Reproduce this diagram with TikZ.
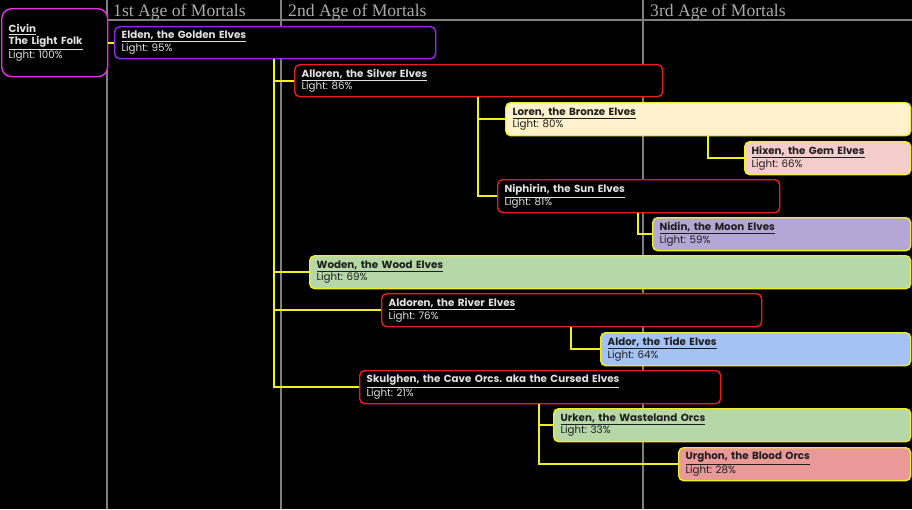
\documentclass[tikz,border=0pt]{standalone}
\usepackage{fontspec}
\setmainfont{Poppins}
\newfontfamily\hdrfont{Liberation Serif}
\definecolor{gridgray}{RGB}{128,128,128}
\definecolor{hdrgray}{RGB}{170,170,170}
\definecolor{cmag}{RGB}{230,50,230}
\definecolor{cpurp}{RGB}{150,40,240}
\definecolor{cred}{RGB}{235,30,30}
\definecolor{cyel}{RGB}{240,240,30}
\definecolor{fcream}{HTML}{FFF2CC}
\definecolor{fpink}{HTML}{F4CCCC}
\definecolor{flav}{HTML}{B4A7D6}
\definecolor{fgreen}{HTML}{B6D7A8}
\definecolor{fblue}{HTML}{A4C2F4}
\definecolor{fsalmon}{HTML}{EA9999}
\definecolor{ltxt}{RGB}{225,225,225}
\definecolor{dtxt}{RGB}{30,30,30}
\newcommand{\ttl}[1]{\textbf{\underline{#1}}}
\tikzset{
  grid/.style={draw=gridgray, line width=1.2pt},
  hdr/.style={anchor=base west, text=hdrgray, font=\hdrfont\fontsize{17.6}{19}\selectfont, inner sep=0pt},
  rbox/.style={draw=#1, line width=1.4pt, rounded corners=5pt, fill=black, text=ltxt,
    anchor=north west, align=left, inner xsep=7pt, inner ysep=0pt,
    font=\frenchspacing\fontsize{10.3}{12.6}\selectfont},
  cbox/.style={draw=cyel, line width=1.4pt, rounded corners=5pt, fill=#1, text=dtxt,
    anchor=north west, align=left, inner xsep=7pt, inner ysep=0pt,
    font=\frenchspacing\fontsize{10.3}{12.6}\selectfont},
  conn/.style={draw=cyel, line width=1.6pt},
}
\begin{document}
\begin{tikzpicture}[x=1pt,y=-1pt]
\fill[black] (0,0) rectangle (912,509);
\useasboundingbox (0,0) rectangle (912,509);
% grid
\draw[grid] (107,0) -- (107,509);
\draw[grid] (281,0) -- (281,509);
\draw[grid] (643,0) -- (643,509);
\draw[grid] (107,20) -- (912,20);
\node[hdr] (h1) at (113,16.5) {1st Age of Mortals};
\node[hdr] (h2) at (288,16.5) {2nd Age of Mortals};
\node[hdr] (h3) at (650,16.5) {3rd Age of Mortals};
% boxes
\node[rbox=cmag, rounded corners=10pt, minimum width=106pt, minimum height=68pt, text width=92pt, anchor=north west] (civin) at (1,8)
  {\ttl{Civin}\\\ttl{The Light Folk}\\Light: 100\%\\[22pt]};
\node[rbox=cpurp, minimum width=321pt, minimum height=32pt, text width=307pt] (elden) at (114,26)
  {\ttl{Elden, the Golden Elves}\\Light: 95\%};
\node[rbox=cred, minimum width=368pt, minimum height=32pt, text width=354pt] (allor) at (294,64)
  {\ttl{Alloren, the Silver Elves}\\Light: 86\%};
\node[cbox=fcream, minimum width=405pt, minimum height=33pt, text width=391pt] (loren) at (505,102)
  {\ttl{Loren, the Bronze Elves}\\Light: 80\%};
\node[cbox=fpink, minimum width=166pt, minimum height=33pt, text width=152pt] (hixen) at (744,141)
  {\ttl{Hixen, the Gem Elves}\\Light: 66\%};
\node[rbox=cred, minimum width=282pt, minimum height=33pt, text width=268pt] (niph) at (497,179)
  {\ttl{Niphirin, the Sun Elves}\\Light: 81\%};
\node[cbox=flav, minimum width=258pt, minimum height=33pt, text width=244pt] (nidin) at (652,217)
  {\ttl{Nidin, the Moon Elves}\\Light: 59\%};
\node[cbox=fgreen, minimum width=601pt, minimum height=33pt, text width=587pt] (woden) at (309,255)
  {\ttl{Woden, the Wood Elves}\\Light: 69\%};
\node[rbox=cred, minimum width=380pt, minimum height=33pt, text width=366pt] (aldoren) at (381,293)
  {\ttl{Aldoren, the River Elves}\\Light: 76\%};
\node[cbox=fblue, minimum width=310pt, minimum height=33pt, text width=296pt] (aldor) at (600,332)
  {\ttl{Aldor, the Tide Elves}\\Light: 64\%};
\node[rbox=cred, minimum width=361pt, minimum height=33pt, text width=347pt] (skul) at (359,370)
  {\ttl{Skulghen, the Cave Orcs. aka the Cursed Elves}\\Light: 21\%};
\node[cbox=fgreen, minimum width=357pt, minimum height=33pt, text width=343pt] (urken) at (553,408)
  {\ttl{Urken, the Wasteland Orcs}\\Light: 33\%};
\node[cbox=fsalmon, minimum width=232pt, minimum height=33pt, text width=218pt] (urghon) at (678,447)
  {\ttl{Urghon, the Blood Orcs}\\Light: 28\%};
% connectors
\coordinate (v1) at (274,0);
\coordinate (v2) at (478,0);
\coordinate (v3) at (708,0);
\coordinate (v4) at (638,0);
\coordinate (v5) at (571,0);
\coordinate (v6) at (539,0);
\draw[conn] (elden.west -| civin.east) -- (elden.west);
\draw[conn] (v1 |- elden.south) -- (v1 |- skul.west) -- (skul.west);
\draw[conn] (v1 |- allor.west) -- (allor.west);
\draw[conn] (v1 |- woden.west) -- (woden.west);
\draw[conn] (v1 |- aldoren.west) -- (aldoren.west);
\draw[conn] (v2 |- allor.south) -- (v2 |- niph.west) -- (niph.west);
\draw[conn] (v2 |- loren.west) -- (loren.west);
\draw[conn] (v3 |- loren.south) -- (v3 |- hixen.west) -- (hixen.west);
\draw[conn] (v4 |- niph.south) -- (v4 |- nidin.west) -- (nidin.west);
\draw[conn] (v5 |- aldoren.south) -- (v5 |- aldor.west) -- (aldor.west);
\draw[conn] (v6 |- skul.south) -- (v6 |- urghon.west) -- (urghon.west);
\draw[conn] (v6 |- urken.west) -- (urken.west);
\end{tikzpicture}
\end{document}
